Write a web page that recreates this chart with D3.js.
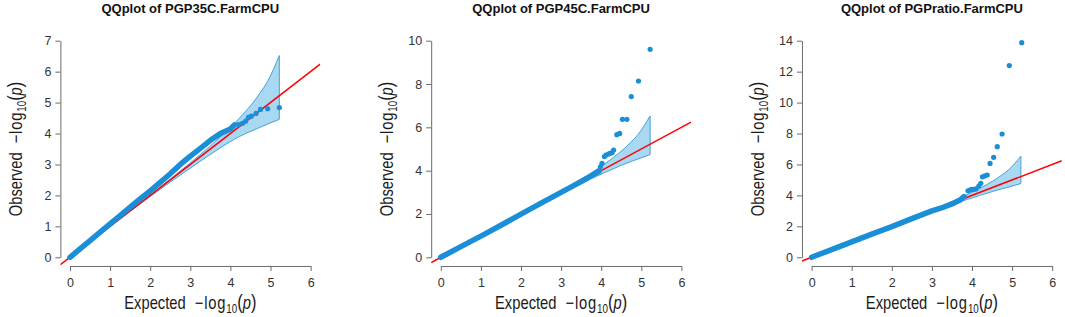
<!DOCTYPE html>
<html>
<head>
<meta charset="utf-8">
<script src="https://cdn.jsdelivr.net/npm/d3@7"></script>
<style>
  body { margin: 0; background: #fff; }
  svg { display: block; font-family: "Liberation Sans", Arial, sans-serif; }
</style>
</head>
<body>
<div class="chart"></div>
<script>
// QQ plots, one per trait
const titles = ['QQplot of PGP35C.FarmCPU', 'QQplot of PGP45C.FarmCPU', 'QQplot of PGPratio.FarmCPU']
const xTicks = [0, 1, 2, 3, 4, 5, 6]
const yTicks = [
  [0, 1, 2, 3, 4, 5, 6, 7],
  [0, 2, 4, 6, 8, 10],
  [0, 2, 4, 6, 8, 10, 12, 14]
]

// dense body of the point cloud (expected, observed)
const bodyExp = [
  [0, 0.25, 0.5, 0.75, 1, 1.25, 1.5, 1.75, 2, 2.25, 2.5, 2.75, 3, 3.25, 3.5, 3.75, 4, 4.1],
  [0, 0.5, 1, 1.5, 2, 2.5, 3, 3.3, 3.5, 3.75, 3.95],
  [0, 0.5, 1, 1.5, 2, 2.5, 3, 3.3, 3.5, 3.7, 3.8]
]
const bodyObs = [
  [0, 0.27, 0.54, 0.81, 1.08, 1.35, 1.62, 1.89, 2.15, 2.42, 2.7, 3.0, 3.27, 3.52, 3.78, 4.0, 4.15, 4.28],
  [0, 0.49, 0.98, 1.48, 1.99, 2.5, 3.0, 3.3, 3.5, 3.76, 3.98],
  [0, 0.5, 1.0, 1.5, 1.98, 2.5, 3.0, 3.25, 3.45, 3.7, 3.92]
]

// separate points in the tail
const tailExp = [
  [4.2, 4.3, 4.38, 4.45, 4.52, 4.64, 4.75, 4.93, 5.22],
  [3.98, 4.02, 4.08, 4.12, 4.18, 4.22, 4.27, 4.31, 4.39, 4.46, 4.53, 4.64, 4.75, 4.93, 5.22],
  [3.9, 3.95, 3.99, 4.05, 4.1, 4.17, 4.22, 4.26, 4.32, 4.38, 4.45, 4.54, 4.63, 4.75, 4.93, 5.24]
]
const tailObs = [
  [4.29, 4.33, 4.40, 4.52, 4.56, 4.65, 4.78, 4.80, 4.84],
  [4.18, 4.34, 4.65, 4.72, 4.77, 4.80, 4.83, 4.95, 5.66, 5.72, 6.37, 6.37, 7.42, 8.14, 9.6],
  [4.3, 4.35, 4.39, 4.4, 4.42, 4.61, 4.78, 5.2, 5.26, 5.32, 6.07, 6.46, 7.15, 7.97, 12.39, 13.87]
]

// confidence band
const bandExp = [0, 2.22, 3.22, 3.74, 4.22, 4.52, 4.74, 4.92, 5.22]
const bandUpper = [
  [0, 2.24, 3.29, 3.88, 4.49, 4.93, 5.31, 5.67, 6.52],
  [0, 2.24, 3.29, 3.88, 4.49, 4.93, 5.31, 5.67, 6.53],
  [0, 2.24, 3.29, 3.88, 4.49, 4.93, 5.31, 5.67, 6.54]
]
const bandLower = [
  [0, 2.17, 3.08, 3.53, 3.9, 4.08, 4.2, 4.3, 4.46],
  [0, 2.2, 3.15, 3.62, 4.02, 4.26, 4.42, 4.54, 4.74],
  [0, 2.2, 3.15, 3.62, 4.02, 4.26, 4.42, 4.54, 4.77]
]

const W = 1065, H = 317
const svg = d3.select('.chart').append('svg')
  .attr('width', W)
  .attr('height', H)

const ptColor = '#1a8ed6'
const axisColor = '#6b6b6b'

// "Word  -log10(p)" in a narrow-looking face, like the R device output
const axisTitle = (g, word, transform) => {
  const t = g.append('text')
    .attr('transform', transform)
    .attr('text-anchor', 'middle')
    .style('font-size', '18px')
    .attr('fill', '#1a1a1a')
  t.append('tspan').text(word)
  t.append('tspan').text('\u2212log').attr('dx', 11).style('letter-spacing', '1px')
  t.append('tspan').text('10').style('font-size', '12px').attr('dy', 4)
  t.append('tspan').text('(').attr('dy', -4).style('font-size', '20px')
  t.append('tspan').text('p').style('font-style', 'italic')
  t.append('tspan').text(')').style('font-size', '20px')
}

titles.forEach((title, i) => {
  const x0 = 70 + i * 370.8
  const ymax = yTicks[i][yTicks[i].length - 1]
  const x = d3.scaleLinear().domain([0, 6]).range([x0, x0 + 240.6])
  const y = d3.scaleLinear().domain([0, ymax]).range([257.3, 40.7])

  // plotting region (R usr, 4% extension)
  const ux = [-0.24, 6.24]
  const uy = [-0.04 * ymax, 1.04 * ymax]
  const g = svg.append('g')

  const clipId = 'clip' + i
  g.append('clipPath').attr('id', clipId)
    .append('rect')
      .attr('x', x(ux[0]))
      .attr('y', y(uy[1]))
      .attr('width', x(ux[1]) - x(ux[0]))
      .attr('height', y(uy[0]) - y(uy[1]))
  const plot = g.append('g').attr('clip-path', `url(#${clipId})`)

  // band
  const band = bandExp.map((e, k) => ({e, lo: bandLower[i][k], hi: bandUpper[i][k]}))
  plot.append('path')
    .datum(band)
    .attr('d', d3.area().curve(d3.curveMonotoneX)
      .x(d => x(d.e)).y0(d => y(d.lo)).y1(d => y(d.hi)))
    .attr('fill', '#a8d8f2')
    .attr('stroke', '#4aa0d6')
    .attr('stroke-width', 1)

  // y = x reference
  plot.append('line')
    .attr('x1', x(ux[0])).attr('y1', y(ux[0]))
    .attr('x2', x(ux[1])).attr('y2', y(ux[1]))
    .attr('stroke', '#ff0000')
    .attr('stroke-width', 1.5)

  // dense body
  const body = bodyExp[i].map((e, k) => [e, bodyObs[i][k]])
  plot.append('path')
    .datum(body)
    .attr('d', d3.line().x(d => x(d[0])).y(d => y(d[1])))
    .attr('fill', 'none')
    .attr('stroke', ptColor)
    .attr('stroke-width', 5.5)
    .attr('stroke-linecap', 'round')
    .attr('stroke-linejoin', 'round')

  plot.selectAll('circle')
    .data(tailExp[i].map((e, k) => [e, tailObs[i][k]]))
    .join('circle')
      .attr('cx', d => x(d[0]))
      .attr('cy', d => y(d[1]))
      .attr('r', 2.6)
      .attr('fill', ptColor)

  // axes
  const yAxis = g.append('g')
    .attr('transform', `translate(${x(ux[0])},0)`)
    .call(d3.axisLeft(y).tickValues(yTicks[i]).tickFormat(d3.format('d'))
      .tickSizeInner(5).tickSizeOuter(0).tickPadding(4))
  const xAxis = g.append('g')
    .attr('transform', `translate(0,${y(uy[0])})`)
    .call(d3.axisBottom(x).tickValues(xTicks).tickFormat(d3.format('d'))
      .tickSizeInner(5).tickSizeOuter(0).tickPadding(7))
  ;[xAxis, yAxis].forEach(a => {
    a.select('.domain').attr('stroke', axisColor)
    a.selectAll('.tick line').attr('stroke', axisColor)
    a.selectAll('.tick text').attr('fill', '#333').style('font-size', '12.5px')
      .style('font-family', '"Liberation Sans", Arial, sans-serif')
  })

  // title
  g.append('text')
    .attr('x', x(3)).attr('y', 12.5)
    .attr('text-anchor', 'middle')
    .style('font-weight', 'bold').style('font-size', '13px')
    .attr('fill', '#111')
    .text(title)

  // axis titles, squeezed along the text direction
  axisTitle(g, 'Expected', `translate(${x(3)},309) scale(0.82,1)`)
  axisTitle(g, 'Observed', `translate(${x(ux[0]) - 38},${y(ymax / 2)}) rotate(-90) scale(0.82,1)`)
})
</script>
</body>
</html>
